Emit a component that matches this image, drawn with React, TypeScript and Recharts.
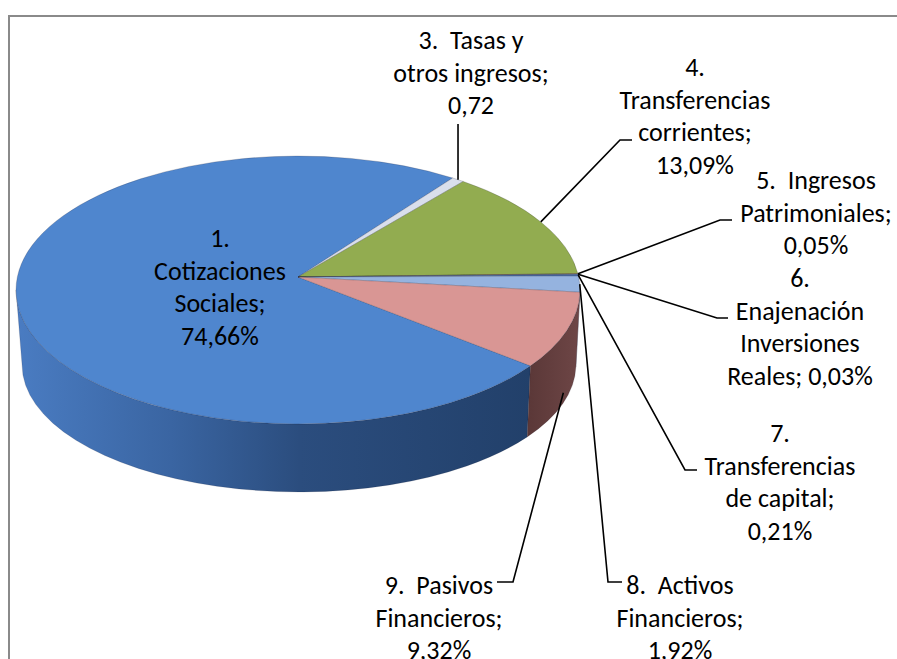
import React from 'react';
import { PieChart, Pie } from 'recharts';

// Revenue breakdown by chapter (share of total, %)
const categories = [
  '1. Cotizaciones Sociales',
  '3. Tasas y otros ingresos',
  '4. Transferencias corrientes',
  '5. Ingresos Patrimoniales',
  '6. Enajenación Inversiones Reales',
  '7. Transferencias de capital',
  '8. Activos Financieros',
  '9. Pasivos Financieros',
];
const shares = [74.66, 0.72, 13.09, 0.05, 0.03, 0.21, 1.92, 9.32];

// Label text lines; {v} is replaced by the slice value
const labelLines = [
  ['1.', 'Cotizaciones', 'Sociales;', '{v}%'],
  ['3.  Tasas y', 'otros ingresos;', '{v}'],
  ['4.', 'Transferencias', 'corrientes;', '{v}%'],
  ['5.  Ingresos', 'Patrimoniales;', '{v}%'],
  ['6.', 'Enajenación', 'Inversiones', 'Reales; {v}%'],
  ['7.', 'Transferencias', 'de capital;', '{v}%'],
  ['8.  Activos', 'Financieros;', '{v}%'],
  ['9.  Pasivos', 'Financieros;', '{v}%'],
];

const topColors = ['#4F86CE', '#D9DFEC', '#92AC50', '#E8873A', '#8C8C8C', '#4B6FA8', '#95B3DF', '#D99694'];
const sideColors = ['url(#sideBlue)', '#9FA6B3', '#5C6E2E', '#9A5520', '#555555', '#2F4770', '#5A75A0', 'url(#sidePink)'];

const data = categories.map((name, i) => ({ name, value: shares[i] }));

// Label placement: text centre x, first line centre y, leader elbow and tick end
const labelLayout: any[] = [
  { x: 220, y: 238, anchor: 'none' },
  { x: 471, y: 40, anchor: 'top', elbow: [null, 124] },
  { x: 695, y: 67, anchor: 'top', elbow: [620, 140], tick: 632 },
  { x: 816, y: 180, anchor: 'top', elbow: [720, 220], tick: 732 },
  { x: 800, y: 278, anchor: 'top', elbow: [717, 318], tick: 728 },
  { x: 780, y: 433, anchor: 'top', elbow: [685, 470], tick: 697 },
  { x: 680, y: 585, anchor: 'top', elbow: [608, 582], tick: 622 },
  { x: 439, y: 585, anchor: 'side', elbow: [513, 582], tick: 497 },
];

// 3D tilt of the disc
const GEO = { ryRatio: 0.475, apexLift: 13, depth: 75, bottomDx: 1, bottomRx: 0.982, bottomRy: 0.45 };

const rad = (d: number) => (d * Math.PI) / 180;
const topPt = (cx: number, cy: number, r: number, deg: number) => [
  cx + r * Math.cos(rad(deg)),
  cy - r * GEO.ryRatio * Math.sin(rad(deg)),
];
const botPt = (cx: number, cy: number, r: number, deg: number) => [
  cx + GEO.bottomDx + r * GEO.bottomRx * Math.cos(rad(deg)),
  cy + GEO.depth - r * GEO.bottomRy * Math.sin(rad(deg)),
];
const fmt = (p: number[]) => `${p[0].toFixed(2)},${p[1].toFixed(2)}`;

function Slice3D(props: any) {
  const { cx, cy, outerRadius: r, startAngle, endAngle, index } = props;
  const hi = Math.max(startAngle, endAngle);
  const lo = Math.min(startAngle, endAngle);
  const ry = r * GEO.ryRatio;
  const rxB = r * GEO.bottomRx;
  const ryB = r * GEO.bottomRy;
  const apex = [cx, cy - GEO.apexLift];
  const p1 = topPt(cx, cy, r, hi);
  const p2 = topPt(cx, cy, r, lo);
  const large = hi - lo > 180 ? 1 : 0;
  const topPath = `M${fmt(apex)} L${fmt(p1)} A${r} ${ry} 0 ${large} 1 ${fmt(p2)} Z`;

  // front-facing wall segments (lower half of the disc)
  const walls: string[] = [];
  for (let k = -3; k <= 3; k++) {
    const a = Math.max(lo, -180 + 360 * k);
    const b = Math.min(hi, 360 * k);
    if (b > a) {
      const t1 = topPt(cx, cy, r, a);
      const t2 = topPt(cx, cy, r, b);
      const b1 = botPt(cx, cy, r, a);
      const b2 = botPt(cx, cy, r, b);
      walls.push(
        `M${fmt(t1)} A${r} ${ry} 0 0 0 ${fmt(t2)} L${fmt(b2)} A${rxB} ${ryB} 0 0 1 ${fmt(b1)} Z`
      );
    }
  }

  return (
    <g>
      {index === 0 && (
        <defs>
          <linearGradient id="sideBlue" gradientUnits="userSpaceOnUse" x1={cx - r} y1={0} x2={cx + r * 0.83} y2={0}>
            <stop offset="0%" stopColor="#4A7CC2" />
            <stop offset="30%" stopColor="#3A65A2" />
            <stop offset="55%" stopColor="#2B4D7E" />
            <stop offset="100%" stopColor="#22406A" />
          </linearGradient>
          <linearGradient id="sidePink" gradientUnits="userSpaceOnUse" x1={cx + r * 0.82} y1={0} x2={cx + r} y2={0}>
            <stop offset="0%" stopColor="#5B3838" />
            <stop offset="100%" stopColor="#6E4646" />
          </linearGradient>
        </defs>
      )}
      {walls.map((d, i) => (
        <path key={i} d={d} fill={sideColors[index]} stroke="rgba(20,20,40,0.25)" strokeWidth={0.6} />
      ))}
      <path d={topPath} fill={topColors[index]} stroke="rgba(40,40,60,0.3)" strokeWidth={0.7} />
    </g>
  );
}

function renderLabel(props: any) {
  const { cx, cy, outerRadius: r, midAngle, index } = props;
  const layout = labelLayout[index];
  const v = (props.value ?? shares[index]) as number;
  const vText = v.toFixed(2).replace('.', ',');
  const lines = labelLines[index].map((s) => s.replace('{v}', vText));
  const lh = 32.5;

  let leader = null;
  if (layout.anchor !== 'none') {
    let start = topPt(cx, cy, r, midAngle);
    if (layout.anchor === 'side') {
      const b = botPt(cx, cy, r, midAngle);
      start = [start[0] + (b[0] - start[0]) * 0.85, start[1] + (b[1] - start[1]) * 0.85];
    }
    const ex = layout.elbow[0] == null ? start[0] : layout.elbow[0];
    const ey = layout.elbow[1];
    const pts = [start, [ex, ey]];
    if (layout.tick != null) pts.push([layout.tick, ey]);
    leader = (
      <polyline
        points={pts.map((p) => `${p[0]},${p[1]}`).join(' ')}
        fill="none"
        stroke="#000"
        strokeWidth={1.6}
      />
    );
  }

  return (
    <g key={`lbl-${index}`}>
      {leader}
      <text
        x={layout.x}
        y={layout.y}
        textAnchor="middle"
        fontFamily="Carlito, Calibri, Lato, sans-serif"
        fontSize={26}
        fill="#000"
        style={{ whiteSpace: 'pre' }}
      >
        {lines.map((s, i) => (
          <tspan key={i} x={layout.x} y={layout.y + i * lh} dominantBaseline="central">
            {s}
          </tspan>
        ))}
      </text>
    </g>
  );
}

export default function App() {
  return (
    <div
      style={{
        position: 'absolute',
        left: 0,
        top: 0,
        width: 897,
        height: 659,
        overflow: 'hidden',
        background: '#fff',
      }}
    >
      <div
        style={{
          position: 'absolute',
          left: 8,
          top: 15,
          width: 1000,
          height: 1000,
          border: '2px solid #8a8a8a',
        }}
      />
      <div style={{ position: 'absolute', left: 0, top: 0 }}>
        <PieChart width={897} height={659} margin={{ top: 0, right: 0, bottom: 0, left: 0 }}>
          <Pie
            data={data}
            dataKey="value"
            nameKey="name"
            cx={298}
            cy={290}
            outerRadius={282}
            startAngle={-34.5}
            endAngle={-394.5}
            stroke="none"
            isAnimationActive={false}
            shape={Slice3D}
            label={renderLabel}
            labelLine={false}
          />
        </PieChart>
      </div>
    </div>
  );
}
